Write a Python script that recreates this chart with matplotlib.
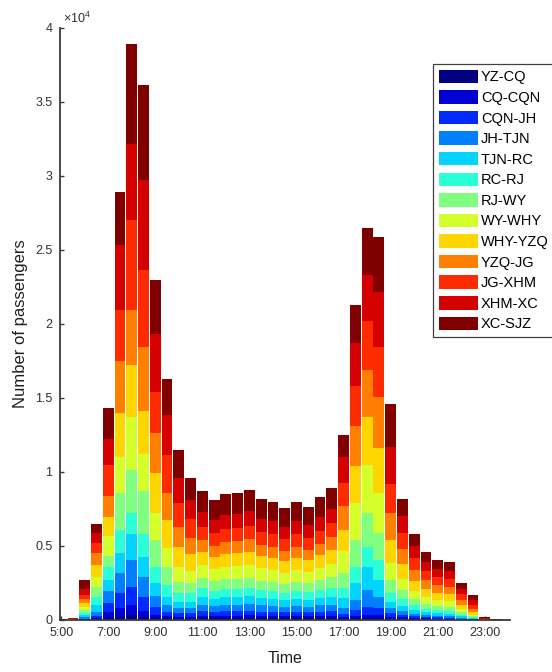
import numpy as np
import matplotlib
matplotlib.use("Agg")
import matplotlib.pyplot as plt

plt.rcParams['font.family'] = ['Liberation Sans', 'DejaVu Sans']
plt.rcParams['mathtext.fontset'] = 'custom'
plt.rcParams['mathtext.rm'] = 'Liberation Sans'

# half-hour slots from 5:00 to 23:30
hours = np.arange(5.0, 24.0, 0.5)

sections = ['YZ-CQ', 'CQ-CQN', 'CQN-JH', 'JH-TJN', 'TJN-RC', 'RC-RJ', 'RJ-WY',
            'WY-WHY', 'WHY-YZQ', 'YZQ-JG', 'JG-XHM', 'XHM-XC', 'XC-SJZ']

# passengers per section and slot
yz_cq = [0, 0, 20, 50, 150, 230, 340, 180, 110, 120, 100, 100, 130, 120, 130, 130, 130, 120, 120,
         110, 120, 110, 120, 120, 80, 120, 140, 140, 100, 80, 60, 50, 40, 40, 20, 10, 0, 0]
cq_cqn = [0, 0, 30, 70, 400, 570, 700, 400, 230, 150, 120, 120, 170, 160, 170, 170, 180, 160, 160,
          150, 160, 150, 160, 160, 100, 150, 200, 200, 120, 100, 80, 60, 50, 50, 30, 10, 0, 0]
cqn_jh = [0, 0, 50, 150, 600, 1000, 1200, 1000, 560, 290, 230, 220, 300, 280, 300, 300, 310, 290, 280,
          260, 280, 270, 290, 300, 250, 410, 560, 450, 230, 170, 120, 90, 80, 70, 40, 20, 0, 0]
jh_tjn = [0, 0, 100, 300, 800, 1350, 1800, 1300, 700, 440, 350, 350, 440, 400, 420, 430, 440, 410, 400,
          380, 400, 380, 420, 450, 400, 670, 1100, 790, 340, 250, 170, 130, 110, 100, 60, 30, 0, 0]
tjn_rc = [0, 0, 150, 450, 750, 1350, 1800, 1400, 900, 580, 440, 450, 520, 490, 510, 520, 530, 490, 480,
          450, 480, 460, 500, 550, 650, 1150, 1600, 1120, 450, 350, 250, 190, 160, 150, 90, 40, 0, 0]
rc_rj = [0, 0, 150, 550, 900, 1600, 1400, 1550, 1100, 780, 560, 550, 570, 530, 550, 560, 570, 530, 520,
         490, 520, 500, 540, 580, 650, 1100, 1350, 1350, 560, 450, 320, 250, 220, 210, 120, 60, 0, 0]
rj_wy = [0, 10, 200, 650, 750, 2500, 2900, 2900, 1800, 1250, 800, 700, 700, 650, 680, 690, 700, 660, 640,
         600, 640, 610, 670, 730, 1050, 1800, 2250, 1800, 900, 600, 430, 340, 300, 290, 170, 80, 0, 0]
wy_why = [0, 10, 200, 700, 1300, 2400, 3600, 2500, 1800, 1250, 1000, 850, 870, 810, 850, 860, 880, 820, 800,
          760, 800, 770, 830, 920, 1450, 2500, 3300, 2700, 1130, 800, 550, 450, 400, 380, 230, 120, 10, 0]
why_yzq = [0, 20, 250, 800, 1300, 3000, 3500, 2900, 2700, 1900, 1350, 1100, 870, 810, 850, 860, 880, 820, 800,
           760, 800, 770, 830, 920, 1450, 2500, 3200, 3100, 1570, 950, 650, 520, 460, 450, 280, 170, 10, 0]
yzq_jg = [0, 20, 250, 800, 1400, 3500, 3700, 4300, 2700, 1800, 1350, 1100, 830, 770, 810, 820, 840, 780, 760,
          720, 760, 730, 790, 870, 1600, 2700, 3200, 3400, 1800, 1050, 750, 600, 530, 510, 330, 220, 20, 0]
jg_xhm = [10, 20, 300, 650, 2100, 3450, 6100, 5200, 2800, 2600, 1600, 1300, 910, 850, 890, 900, 920, 860, 840,
          790, 840, 800, 870, 950, 1600, 2700, 3300, 3400, 2000, 1100, 800, 630, 560, 540, 360, 270, 30, 10]
xhm_xc = [10, 30, 400, 700, 1800, 4400, 5100, 6100, 3900, 2700, 1700, 1300, 960, 890, 940, 950, 970, 900, 880,
          830, 880, 840, 910, 980, 1700, 2900, 3100, 3700, 2500, 1100, 800, 630, 560, 540, 370, 300, 50, 10]
xc_sjz = [30, 40, 600, 630, 2050, 3600, 6800, 6400, 3700, 2450, 1900, 1460, 1430, 1340, 1400, 1410, 1450, 1360, 1320,
          1250, 1320, 1260, 1370, 1370, 1520, 2600, 3200, 3700, 2900, 1200, 820, 660, 580, 570, 400, 370, 80, 30]

flows = [yz_cq, cq_cqn, cqn_jh, jh_tjn, tjn_rc, rc_rj, rj_wy, wy_why, why_yzq, yzq_jg, jg_xhm, xhm_xc, xc_sjz]

tick_hours = [5, 7, 9, 11, 13, 15, 17, 19, 21, 23]


def jet(n):
    # piecewise-linear jet ramp, same as the classic MATLAB one
    x = np.linspace(0, 1, n)
    r = np.clip(1.5 - np.abs(4 * x - 3), 0, 1)
    g = np.clip(1.5 - np.abs(4 * x - 2), 0, 1)
    b = np.clip(1.5 - np.abs(4 * x - 1), 0, 1)
    return np.column_stack([r, g, b])


colors = jet(len(sections))

fig = plt.figure(figsize=(5.52, 6.72), dpi=100)
ax = fig.add_axes([0.1078, 0.0774, 0.816, 0.881])

bottom = np.zeros(len(hours))
for name, vals, c in zip(sections, flows, colors):
    vals = np.array(vals, dtype=float)
    ax.bar(hours, vals, width=0.46, bottom=bottom, color=c, edgecolor='none', label=name, zorder=2)
    bottom += vals

ax.set_xlim(4.93, 24.07)
ax.set_ylim(0, 40000)
ax.set_xticks(tick_hours)
ax.set_xticklabels(['%d:00' % h for h in tick_hours])
yt = np.arange(0, 40001, 5000)
ax.set_yticks(yt)
ax.set_yticklabels(['%g' % (v / 1e4) for v in yt])

for s in ['top', 'right']:
    ax.spines[s].set_visible(False)
for s in ['left', 'bottom']:
    ax.spines[s].set_color('#3a3a3a')
    ax.spines[s].set_linewidth(1.3)
    ax.spines[s].set_zorder(3)
ax.tick_params(direction='in', length=3, width=1, color='#3a3a3a', labelsize=9,
               labelcolor='#303030', pad=5)

ax.set_xlabel('Time', fontsize=11.5, color='#202020')
ax.xaxis.set_label_coords(0.5, -0.052)
ax.set_ylabel('Number of passengers', fontsize=12, color='#202020')
ax.yaxis.set_label_coords(-0.07, 0.5)

ax.text(0.008, 1.004, r'$\mathregular{\times10^{4}}$', transform=ax.transAxes,
        fontsize=9, color='#303030', ha='left', va='bottom')

leg = ax.legend(loc='upper left', bbox_to_anchor=(0.784, 0.905), bbox_transform=fig.transFigure,
                fontsize=10.5, handlelength=2.7, handleheight=1.05, labelspacing=0.4,
                handletextpad=0.2, borderpad=0.4, borderaxespad=0, fancybox=False,
                framealpha=1, edgecolor='#404040')
leg.get_frame().set_linewidth(0.9)

fig.savefig('out.png', dpi=100)
